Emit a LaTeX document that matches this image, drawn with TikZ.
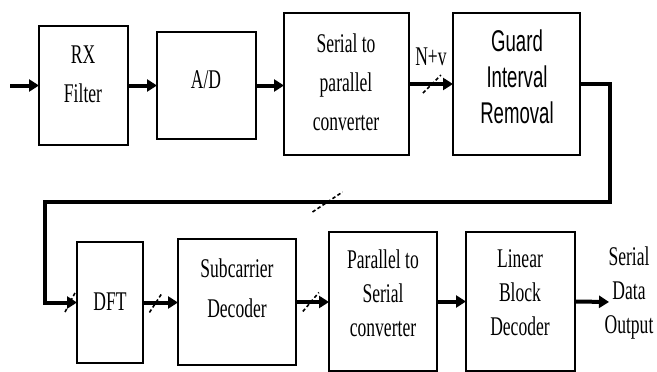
\documentclass[tikz,border=0pt]{standalone}
\usepackage{fontspec}
\setmainfont{Liberation Serif}[FakeStretch=0.65]
\newfontfamily\arialsq{Liberation Sans}[FakeStretch=0.62]
\usetikzlibrary{arrows.meta,calc}
\begin{document}
\begin{tikzpicture}[x=1pt,y=-1pt,
  box/.style={draw, line width=1.8pt, inner sep=0pt, outer sep=0pt},
  conn/.style={line width=4pt, -{Triangle[length=10pt,width=12pt]}},
  slashmark/.style={line width=1.6pt, dash pattern=on 3.5pt off 2.5pt},
  lbl/.style={align=center, font=\fontsize{27}{39}\selectfont, inner sep=0pt},
  lblb/.style={align=center, font=\fontsize{27}{34}\selectfont, inner sep=0pt},
  lbls/.style={align=center, font=\arialsq\fontsize{30}{36}\selectfont, inner sep=0pt}]
\useasboundingbox (0,0) rectangle (657,372);
% boxes
\node[box, minimum width=89pt, minimum height=119pt] (rx) at (83.5,85.5) {};
\node[box, minimum width=99pt, minimum height=107pt] (ad) at (206.5,85.5) {};
\node[box, minimum width=125pt, minimum height=142pt] (sp) at (346.5,84) {};
\node[box, minimum width=127pt, minimum height=142pt] (gi) at (516.5,84) {};
\node[box, minimum width=66pt, minimum height=121pt] (dft) at (110,302.5) {};
\node[box, minimum width=118pt, minimum height=126pt] (sc) at (237,302) {};
\node[box, minimum width=108pt, minimum height=139pt] (ps) at (383,301.5) {};
\node[box, minimum width=109pt, minimum height=139pt] (lb) at (520.5,301.5) {};
% labels
\node[lbl] (trx) at (83,74) {RX\\Filter};
\node[lbl] (tad) at (206,80) {A/D};
\node[lbl] (tsp) at (346,82) {Serial to\\parallel\\converter};
\node[lbls] (tgi) at (517,77) {Guard\\Interval\\Removal};
\node[lbl] (tnv) at (431,57) {N+v};
\node[lbl] (tdft) at (110,302) {DFT};
\node[lbl, font=\fontsize{27}{40}\selectfont] (tsc) at (237,288) {Subcarrier\\Decoder};
\node[lblb] (tps) at (383,293) {Parallel to\\Serial\\converter};
\node[lblb] (tlb) at (520,293) {Linear\\Block\\Decoder};
\node[lblb] (tout) at (629,293) {Serial\\Data\\Output};
% connectors
\coordinate (in) at (10,85.5);
\coordinate (fbR) at (610,202);
\coordinate (fbL) at (45,202);
\coordinate (out) at (609,302);
\draw[conn] (in) -- (rx.west);
\draw[conn] (rx.east) -- (ad.west);
\draw[conn] (ad.east) -- (ad.east -| sp.west);
\draw[conn] (sp.east) -- coordinate[pos=0.52] (s1) (gi.west);
\draw[conn] (gi.east) -| (fbR) -- coordinate[pos=0.5] (s2) (fbL) |- (dft.west);
\coordinate (s3) at ($(dft.west)+(-7,0)$);
\draw[conn] (dft.east) -- coordinate[pos=0.37] (s4) (dft.east -| sc.west);
\draw[conn] (sc.east) -- coordinate[pos=0.45] (s5) (sc.east -| ps.west);
\draw[conn] (ps.east) -- (lb.west);
\draw[conn] (lb.east) -- (out);
% bus slashes
\draw[slashmark] ($(s1)+(-9,9)$) -- ($(s1)+(9,-9)$);
\draw[slashmark] ($(s2)+(-15,10)$) -- ($(s2)+(15,-10)$);
\draw[slashmark] ($(s3)+(-5,9.5)$) -- ($(s3)+(5,-9.5)$);
\draw[slashmark] ($(s4)+(-6.5,10)$) -- ($(s4)+(6.5,-10)$);
\draw[slashmark] ($(s5)+(-8,9.5)$) -- ($(s5)+(8,-9.5)$);
\end{tikzpicture}
\end{document}
